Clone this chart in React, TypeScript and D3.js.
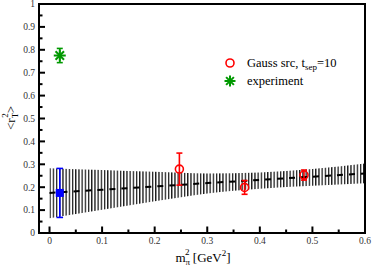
import React from "react";
import * as d3 from "d3";

// fit band
const bandX = [0, 0.1, 0.2, 0.3, 0.4, 0.5, 0.6];
const bandLo = [0.064, 0.102, 0.139, 0.173, 0.193, 0.206, 0.217];
const bandHi = [0.283, 0.275, 0.267, 0.26, 0.264, 0.279, 0.303];
const bandMid = [0.175, 0.189, 0.203, 0.218, 0.232, 0.246, 0.26];

// Gauss src, t_sep=10
const gaussX = [0.247, 0.371, 0.484];
const gaussY = [0.279, 0.199, 0.253];
const gaussErr = [0.07, 0.03, 0.022];

// physical point (extrapolated)
const physX = [0.0195];
const physY = [0.175];
const physErr = [0.107];

// experiment
const expX = [0.0195];
const expY = [0.775];
const expErr = [0.031];

const xTicks = [0, 0.1, 0.2, 0.3, 0.4, 0.5, 0.6];
const xMinor = [0.05, 0.15, 0.25, 0.35, 0.45, 0.55];
const yTicks = [0, 0.1, 0.2, 0.3, 0.4, 0.5, 0.6, 0.7, 0.8, 0.9, 1];
const yMinor = [0.05, 0.15, 0.25, 0.35, 0.45, 0.55, 0.65, 0.75, 0.85, 0.95];

const W = 374;
const H = 268;
const left = 39, right = 365, top = 4, bottom = 233;
const font = "'Liberation Serif', 'Times New Roman', serif";
const green = "#009900";

const fmt = (v: number) => (v === 0 ? "0" : v === 1 ? "1" : String(+v.toFixed(1)));

const Star = ({ cx, cy, r, color }: { cx: number; cy: number; r: number; color: string }) => {
	const d = r * Math.SQRT1_2;
	return (
		<g stroke={color} strokeWidth={2}>
			<line x1={cx - r} y1={cy} x2={cx + r} y2={cy} />
			<line x1={cx} y1={cy - r} x2={cx} y2={cy + r} />
			<line x1={cx - d} y1={cy - d} x2={cx + d} y2={cy + d} />
			<line x1={cx - d} y1={cy + d} x2={cx + d} y2={cy - d} />
		</g>
	);
};

const ErrBar = ({ x, y1, y2, color, cap }: { x: number; y1: number; y2: number; color: string; cap: number }) => (
	<g stroke={color} strokeWidth={1.6}>
		<line x1={x} y1={y1} x2={x} y2={y2} />
		<line x1={x - cap} y1={y1} x2={x + cap} y2={y1} />
		<line x1={x - cap} y1={y2} x2={x + cap} y2={y2} />
	</g>
);

export default function App() {
	const x = d3.scaleLinear().domain([-0.02, 0.6]).range([left, right]);
	const y = d3.scaleLinear().domain([0, 1]).range([bottom, top]);

	const idx = d3.range(bandX.length);
	const area = d3.area<number>()
		.x(i => x(bandX[i]))
		.y0(i => y(bandLo[i]))
		.y1(i => y(bandHi[i]))
		.curve(d3.curveMonotoneX);
	const mid = d3.line<number>()
		.x(i => x(bandX[i]))
		.y(i => y(bandMid[i]));

	return (
		<svg width={W} height={H} style={{ position: "absolute", left: 0, top: 0, background: "#fff" }}>
			<defs>
				<pattern id="hatch" patternUnits="userSpaceOnUse" width={3.2} height={10} x={x(0)}>
					<rect x={0} y={0} width={1.3} height={10} fill="#1a1a1a" />
				</pattern>
			</defs>

			{/* band */}
			<path d={area(idx) || ""} fill="url(#hatch)" stroke="none" />
			<path d={mid(idx) || ""} fill="none" stroke="#000" strokeWidth={2} strokeDasharray="6,6" />

			{/* frame */}
			<rect x={left} y={top} width={right - left} height={bottom - top} fill="none" stroke="#000" strokeWidth={2} />

			{/* y ticks */}
			{yTicks.map(t => (
				<g key={"y" + t}>
					<line x1={left} x2={left + 6} y1={y(t)} y2={y(t)} stroke="#000" strokeWidth={2} />
					<text x={left - 4} y={y(t) + 3.3} textAnchor="end" fontSize={9.5} fontFamily={font} fill="#333">{fmt(t)}</text>
				</g>
			))}
			{yMinor.map(t => (
				<line key={"ym" + t} x1={left} x2={left + 3.5} y1={y(t)} y2={y(t)} stroke="#000" strokeWidth={2} />
			))}

			{/* x ticks */}
			{xTicks.map(t => (
				<g key={"x" + t}>
					<line x1={x(t)} x2={x(t)} y1={bottom} y2={bottom - 6.5} stroke="#000" strokeWidth={2} />
					<text x={x(t)} y={bottom + 10.5} textAnchor="middle" fontSize={9.5} fontFamily={font} fill="#333">{fmt(t)}</text>
				</g>
			))}
			{xMinor.map(t => (
				<line key={"xm" + t} x1={x(t)} x2={x(t)} y1={bottom} y2={bottom - 3.5} stroke="#000" strokeWidth={2} />
			))}

			{/* Gauss src points */}
			{gaussX.map((gx, i) => (
				<g key={"g" + i}>
					<ErrBar x={x(gx)} y1={y(gaussY[i] + gaussErr[i])} y2={y(gaussY[i] - gaussErr[i])} color="#f00" cap={3} />
					<circle cx={x(gx)} cy={y(gaussY[i])} r={4} fill="none" stroke="#f00" strokeWidth={1.6} />
				</g>
			))}

			{/* physical point */}
			{physX.map((px, i) => (
				<g key={"p" + i}>
					<ErrBar x={x(px)} y1={y(physY[i] + physErr[i])} y2={y(physY[i] - physErr[i])} color="#0000ff" cap={3.3} />
					<rect x={x(px) - 4} y={y(physY[i]) - 4} width={8} height={8} fill="#0000ff" />
				</g>
			))}

			{/* experiment */}
			{expX.map((ex, i) => (
				<g key={"e" + i}>
					<ErrBar x={x(ex)} y1={y(expY[i] + expErr[i])} y2={y(expY[i] - expErr[i])} color={green} cap={3} />
					<Star cx={x(ex)} cy={y(expY[i])} r={6} color={green} />
				</g>
			))}

			{/* legend */}
			<circle cx={230} cy={63} r={4} fill="none" stroke="#f00" strokeWidth={1.6} />
			<text x={247} y={66.5} fontSize={12.5} fontFamily={font} fill="#000">
				Gauss src, t<tspan fontSize={9} dy={3}>sep</tspan><tspan dy={-3}>=10</tspan>
			</text>
			<Star cx={230} cy={81} r={5.5} color={green} />
			<text x={247} y={84.5} fontSize={12.5} fontFamily={font} fill="#000">experiment</text>

			{/* axis labels */}
			<text x={203} y={262} textAnchor="middle" fontSize={13} fontFamily={font} fill="#000">
				m<tspan fontSize={9} dy={3}>π</tspan><tspan fontSize={9} dx={-5} dy={-10}>2</tspan><tspan dy={7}> [GeV</tspan><tspan fontSize={9} dy={-6}>2</tspan><tspan dy={6}>]</tspan>
			</text>
			<text transform={`translate(15, 118) rotate(-90)`} textAnchor="middle" fontSize={13} fontFamily={font} fill="#000">
				&lt;r<tspan fontSize={9} dy={3}>T</tspan><tspan fontSize={9} dx={-5} dy={-10}>2</tspan><tspan dy={7}>&gt;</tspan>
			</text>
		</svg>
	);
}
